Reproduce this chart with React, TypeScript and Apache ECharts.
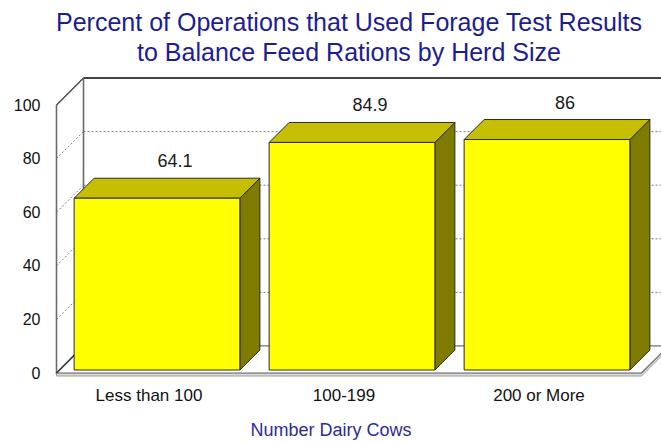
import React, { useEffect, useRef } from 'react';
import * as echarts from 'echarts';

const titleLines = [
  'Percent of Operations that Used Forage Test Results',
  'to Balance Feed Rations by Herd Size',
];
const categories = ['Less than 100', '100-199', '200 or More'];
const values = [64.1, 84.9, 86];
const yTicks = [0, 20, 40, 60, 80, 100];
const xAxisTitle = 'Number Dairy Cows';

const FONT = 'Arial, "Liberation Sans", Helvetica, sans-serif';
const D = 27; // wall depth in px
const B0 = 3; // bar front depth
const B1 = 23; // bar back depth

export default function App() {
  const ref = useRef<HTMLDivElement>(null);

  useEffect(() => {
    document.body.style.margin = '0';
    const chart = echarts.init(ref.current!, undefined, { renderer: 'svg' });

    const frameRender = (params: any, api: any) => {
      const cs = params.coordSys;
      const x0 = cs.x;
      const x1 = cs.x + cs.width;
      const yb = api.coord([0, 0])[1];
      const yt = api.coord([0, yTicks[yTicks.length - 1]])[1];
      const children: any[] = [];
      // back wall
      children.push({
        type: 'rect',
        shape: { x: x0 + D, y: yt - D, width: x1 - x0, height: yb - yt },
        style: { fill: '#ffffff', stroke: '#8a8a8a', lineWidth: 1 },
      });
      // left wall
      children.push({
        type: 'polygon',
        shape: { points: [[x0, yb], [x0, yt], [x0 + D, yt - D], [x0 + D, yb - D]] },
        style: { fill: '#ffffff', stroke: '#8a8a8a', lineWidth: 1 },
      });
      // dotted gridlines
      yTicks.slice(1, -1).forEach((t) => {
        const y = api.coord([0, t])[1];
        children.push({
          type: 'line',
          shape: { x1: x0 + D, y1: y - D, x2: x1 + D, y2: y - D },
          style: { stroke: '#7a7a7a', lineWidth: 1, lineDash: [2, 2] },
        });
        children.push({
          type: 'line',
          shape: { x1: x0, y1: y, x2: x0 + D, y2: y - D },
          style: { stroke: '#7a7a7a', lineWidth: 1, lineDash: [2, 2] },
        });
      });
      // floor slab
      children.push({
        type: 'polygon',
        shape: {
          points: [[x0, yb], [x1, yb], [x1 + D, yb - D], [x1 + D, yb - D + 3], [x1, yb + 3], [x0, yb + 3]],
        },
        style: { fill: '#dcdcdc', stroke: '#9a9a9a', lineWidth: 1 },
      });
      // floor top
      children.push({
        type: 'polygon',
        shape: { points: [[x0, yb], [x1, yb], [x1 + D, yb - D], [x0 + D, yb - D]] },
        style: { fill: '#ffffff', stroke: '#6a6a6a', lineWidth: 1.2 },
      });
      // strong edges
      children.push({
        type: 'line',
        shape: { x1: x0 + D, y1: yt - D, x2: x1 + D, y2: yt - D },
        style: { stroke: '#1a1a1a', lineWidth: 1.3 },
      });
      children.push({
        type: 'line',
        shape: { x1: x0, y1: yt, x2: x0 + D, y2: yt - D },
        style: { stroke: '#4a4a4a', lineWidth: 1.3 },
      });
      children.push({
        type: 'line',
        shape: { x1: x0, y1: yt, x2: x0, y2: yb },
        style: { stroke: '#6a6a6a', lineWidth: 1.6 },
      });
      children.push({
        type: 'line',
        shape: { x1: x0 + D, y1: yt - D, x2: x0 + D, y2: yb - D },
        style: { stroke: '#6a6a6a', lineWidth: 1.6 },
      });
      children.push({
        type: 'line',
        shape: { x1: x0, y1: yb, x2: x0 + D, y2: yb - D },
        style: { stroke: '#333333', lineWidth: 1.2 },
      });
      return { type: 'group', children };
    };

    const barRender = (params: any, api: any) => {
      const i = api.value(0);
      const v = api.value(1);
      const pv = api.coord([i, v]);
      const cx = pv[0];
      const yv = pv[1];
      const yb = api.coord([i, 0])[1];
      const bw = api.size([1, 0])[0] * 0.85;
      const fx0 = cx - bw / 2 + B0;
      const fx1 = cx + bw / 2 + B0;
      const ft = yv - B0;
      const fb = yb - B0;
      const d = B1 - B0;
      const stroke = { stroke: '#2a2a2a', lineWidth: 1 };
      return {
        type: 'group',
        children: [
          {
            type: 'polygon',
            shape: { points: [[fx1, ft], [fx1 + d, ft - d], [fx1 + d, fb - d], [fx1, fb]] },
            style: { fill: '#7f7a00', ...stroke },
          },
          {
            type: 'polygon',
            shape: { points: [[fx0, ft], [fx1, ft], [fx1 + d, ft - d], [fx0 + d, ft - d]] },
            style: { fill: '#c6be00', ...stroke },
          },
          {
            type: 'rect',
            shape: { x: fx0, y: ft, width: bw, height: fb - ft },
            style: { fill: '#ffff00', ...stroke },
          },
          {
            type: 'text',
            style: {
              text: String(v),
              x: cx + 21,
              y: yv - 40,
              align: 'center',
              verticalAlign: 'middle',
              fontSize: 18,
              fontFamily: FONT,
              fill: '#1a1a1a',
            },
          },
        ],
      };
    };

    chart.setOption({
      animation: false,
      backgroundColor: '#ffffff',
      title: {
        text: titleLines.join('\n'),
        left: 349,
        top: 7,
        textAlign: 'center',
        padding: 0,
        textStyle: {
          fontSize: 25,
          lineHeight: 30,
          color: '#1c1c94',
          fontWeight: 'normal',
          fontFamily: FONT,
        },
      },
      grid: {
        left: 56.5,
        top: 105,
        width: 585,
        height: 268,
        containLabel: false,
        outerBoundsMode: 'none',
      },
      xAxis: {
        type: 'category',
        data: categories,
        axisLine: { show: false },
        axisTick: { show: false },
        axisLabel: {
          fontSize: 17,
          color: '#111111',
          margin: 14,
          padding: [0, 10, 0, 0],
          fontFamily: FONT,
        },
        name: xAxisTitle,
        nameLocation: 'middle',
        nameGap: 48,
        nameTextStyle: {
          fontSize: 18,
          color: '#2b2b9e',
          fontFamily: FONT,
          padding: [0, 36, 0, 0],
        },
      },
      yAxis: {
        type: 'value',
        min: 0,
        max: 100,
        interval: 20,
        axisLine: { show: false },
        axisTick: { show: false },
        splitLine: { show: false },
        axisLabel: { fontSize: 16, color: '#111111', margin: 16, fontFamily: FONT },
      },
      series: [
        {
          type: 'custom',
          z: 1,
          silent: true,
          renderItem: frameRender,
          data: [[0, 0]],
        },
        {
          type: 'custom',
          z: 3,
          renderItem: barRender,
          data: values.map((v, i) => [i, v]),
        },
      ],
    });

    return () => chart.dispose();
  }, []);

  return <div ref={ref} style={{ width: 661, height: 442 }} />;
}
